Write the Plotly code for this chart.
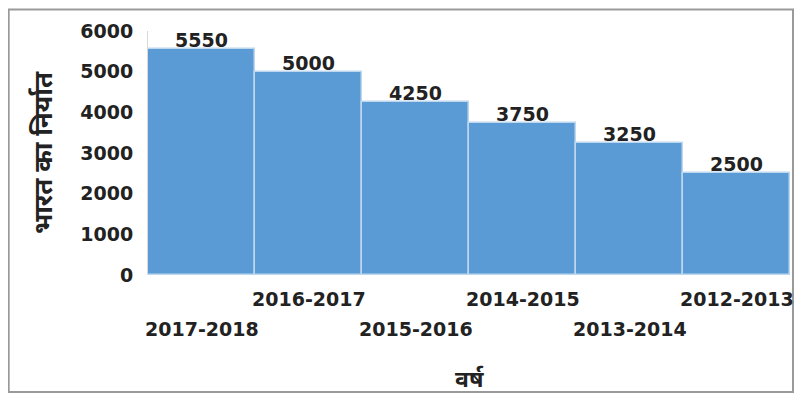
import plotly.graph_objects as go

years = ["2017-2018", "2016-2017", "2015-2016", "2014-2015", "2013-2014", "2012-2013"]
exports = [5550, 5000, 4250, 3750, 3250, 2500]
y_ticks = [0, 1000, 2000, 3000, 4000, 5000, 6000]

font_bold = "DejaVu Sans, Noto Sans, sans-serif"

fig = go.Figure(go.Bar(
    x=years,
    y=exports,
    marker=dict(color="#5B9BD5", line=dict(color="#BDD7EE", width=1.5)),
    cliponaxis=False,
))

# value labels sitting right on the bar tops
for yr, v in zip(years, exports):
    fig.add_annotation(
        x=yr, y=v, xref="x", yref="y", yanchor="bottom", yshift=-4,
        text=f"<b>{v}</b>", showarrow=False,
        font=dict(size=19, color="#222", family=font_bold),
    )

# staggered category labels, like the original
for i, yr in enumerate(years):
    fig.add_annotation(
        x=yr, y=0, xref="x", yref="y", yanchor="top",
        yshift=-11 if i % 2 else -41,
        text=f"<b>{yr}</b>", showarrow=False,
        font=dict(size=19, color="#222", family=font_bold),
    )

fig.add_annotation(
    x=0.5, y=-0.422, xref="paper", yref="paper", yanchor="middle",
    text="<b>वर्ष</b>", showarrow=False,
    font=dict(size=23, color="#222", family="Noto Sans, sans-serif"),
)

# outer frame (page body adds an 8px offset)
fig.add_shape(type="rect", xref="paper", yref="paper",
              x0=-0.217, x1=1.0047, y0=-0.4795, y1=1.088,
              line=dict(color="#9a9a9a", width=2))

fig.update_layout(
    width=786, height=385,
    margin=dict(l=140, r=4, t=23, b=118),
    plot_bgcolor="white", paper_bgcolor="white",
    bargap=0, showlegend=False,
    xaxis=dict(showticklabels=False, showgrid=False, zeroline=False,
               automargin=False, range=[-0.5, 5.5], autorange=False),
    yaxis=dict(
        range=[0, 6000], tickvals=y_ticks, showgrid=False, zeroline=False,
        automargin=False,
        showline=True, linecolor="#d9d9d9", ticks="", ticklen=0,
        ticklabelstandoff=10,
        tickfont=dict(size=19, color="#222", family=font_bold, weight="bold"),
        title=dict(text="<b>भारत का निर्यात</b>", standoff=20,
                   font=dict(size=26, color="#222", family="Noto Sans, sans-serif")),
    ),
)

fig.write_html("out.html")
